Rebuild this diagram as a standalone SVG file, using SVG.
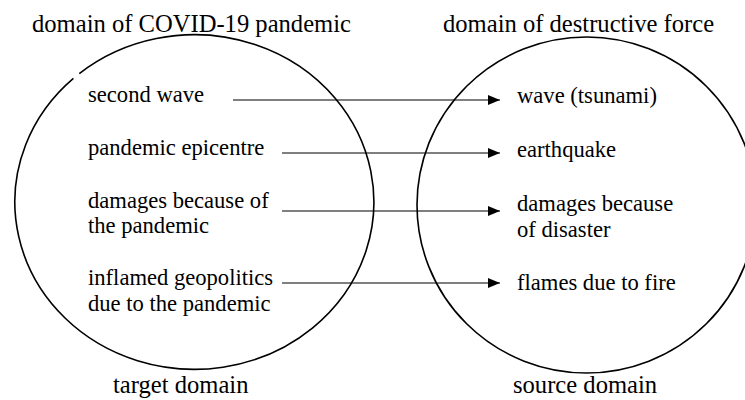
<svg xmlns="http://www.w3.org/2000/svg" width="745" height="400" viewBox="0 0 745 400">
<style>
text{font-family:'Liberation Serif',Tinos,'Times New Roman',Times,serif;fill:#000}
.h{font-size:24.6px}
.b{font-size:22.6px}
.c{fill:none;stroke:#000;stroke-width:1.6}
.l{stroke:#000;stroke-width:1.1;fill:none}
</style>
<defs>
<marker id="ah" viewBox="0 0 12 10" refX="12" refY="5" markerWidth="12" markerHeight="10" markerUnits="userSpaceOnUse" orient="auto">
<path d="M0,0 L12,5 L0,10 Z" fill="#000"/>
</marker>
</defs>
<rect width="745" height="400" fill="#fff"/>
<g id="target-domain">
<path class="c" d="M79.3,73.6 A179.5,167.3 0 1 1 73.4,78.4"/>
<text class="h" x="32" y="31.5">domain of COVID-19 pandemic</text>
<text class="h" x="113" y="393">target domain</text>
</g>
<g id="source-domain">
<ellipse class="c" cx="586.5" cy="205" rx="169.5" ry="168"/>
<text class="h" x="443" y="31.5">domain of destructive force</text>
<text class="h" x="513" y="393">source domain</text>
</g>
<g id="t1"><text class="b" x="88" y="102">second wave</text></g>
<g id="t2"><text class="b" x="88" y="155">pandemic epicentre</text></g>
<g id="t3"><text class="b" x="88" y="208">damages because of</text><text class="b" x="88" y="233">the pandemic</text></g>
<g id="t4"><text class="b" x="88" y="285">inflamed geopolitics</text><text class="b" x="88" y="311">due to the pandemic</text></g>
<g id="s1"><text class="b" x="517" y="103">wave (tsunami)</text></g>
<g id="s2"><text class="b" x="517" y="157">earthquake</text></g>
<g id="s3"><text class="b" x="517" y="211">damages because</text><text class="b" x="517" y="237">of disaster</text></g>
<g id="s4"><text class="b" x="517" y="290">flames due to fire</text></g>
<g id="connectors">
<line class="l" x1="233" y1="100" x2="500" y2="100" marker-end="url(#ah)"/>
<line class="l" x1="282" y1="153" x2="500" y2="153" marker-end="url(#ah)"/>
<line class="l" x1="282" y1="211" x2="500" y2="211" marker-end="url(#ah)"/>
<line class="l" x1="282" y1="283" x2="500" y2="283" marker-end="url(#ah)"/>
</g>
</svg>
